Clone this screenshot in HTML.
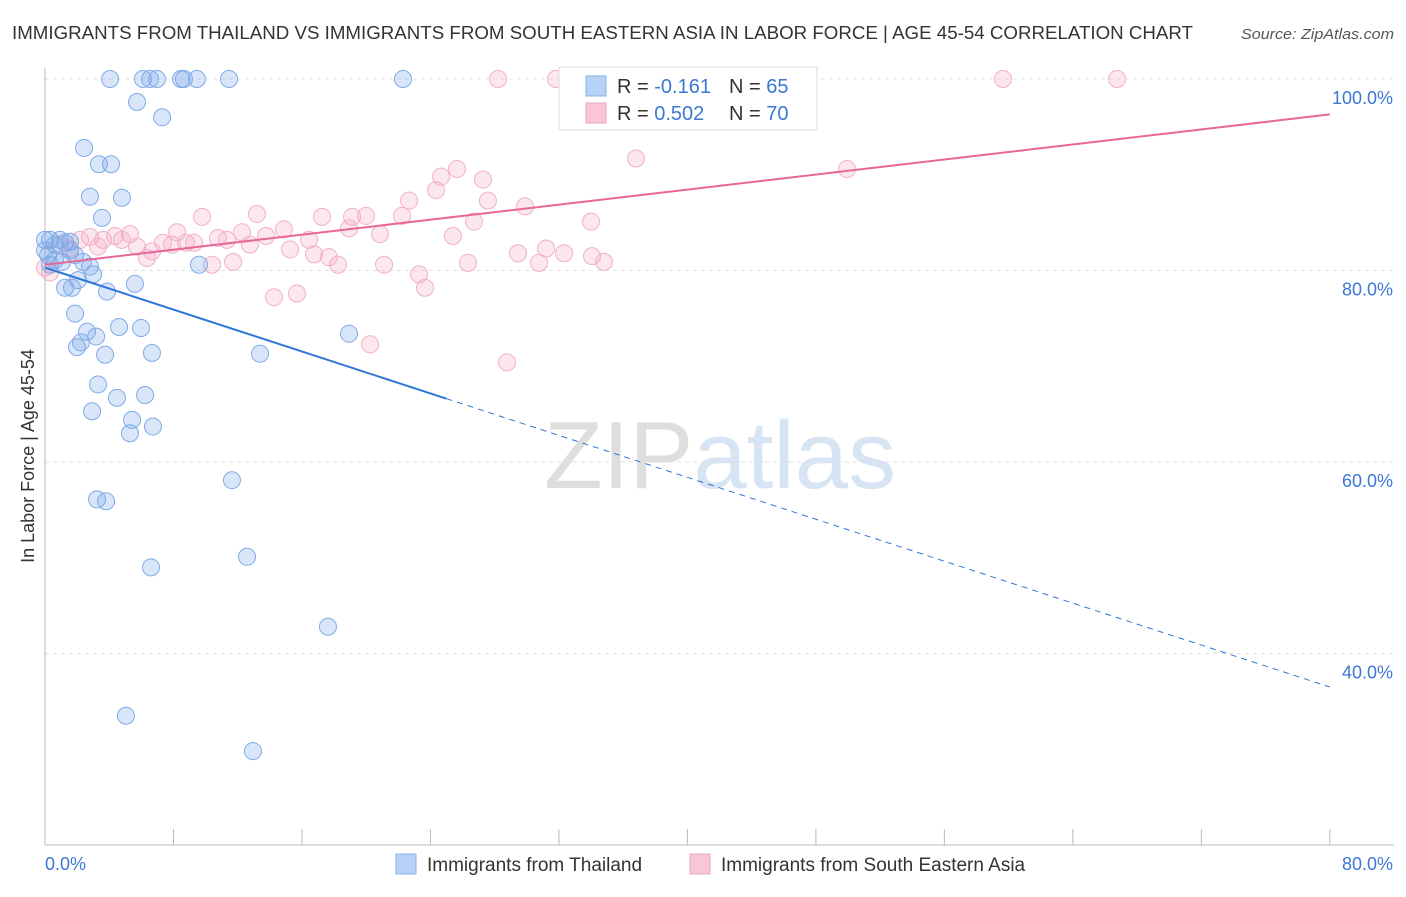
<!DOCTYPE html>
<html><head><meta charset="utf-8"><style>
body{margin:0;background:#fff;font-family:"Liberation Sans",sans-serif;}
svg text{font-family:"Liberation Sans",sans-serif;}
</style></head><body>
<svg id="chart" width="1406" height="892" xmlns="http://www.w3.org/2000/svg">
<text x="12" y="39" font-size="18" fill="#333" textLength="1181" lengthAdjust="spacingAndGlyphs">IMMIGRANTS FROM THAILAND VS IMMIGRANTS FROM SOUTH EASTERN ASIA IN LABOR FORCE | AGE 45-54 CORRELATION CHART</text>
<text x="1241" y="39" font-size="15" fill="#555" font-style="italic" textLength="153" lengthAdjust="spacingAndGlyphs">Source: ZipAtlas.com</text>
<text x="720" y="488" font-size="96" text-anchor="middle" fill="#e4e4e4" font-family="Liberation Serif"><tspan fill="#dedede">ZIP</tspan><tspan fill="#d6e4f4" font-family="Liberation Sans">atlas</tspan></text>
<text transform="translate(34,456) rotate(-90)" font-size="18" fill="#333" text-anchor="middle">In Labor Force | Age 45-54</text>
<g id="grid"></g><g id="axes"></g><g id="pts"></g><g id="trend"></g>
<g>
<rect x="559" y="67" width="258" height="63" fill="#fff" stroke="#ddd"/>
<rect x="586" y="76" width="20" height="20" fill="#b8d2f5" stroke="#8ab0e8"/>
<rect x="586" y="103" width="20" height="20" fill="#f8c6d6" stroke="#eca6bd"/>
<text x="617" y="93" font-size="20" fill="#333">R = <tspan fill="#3b78d4">-0.161</tspan></text>
<text x="729" y="93" font-size="20" fill="#333">N = <tspan fill="#3b78d4">65</tspan></text>
<text x="617" y="120" font-size="20" fill="#333">R = <tspan fill="#3b78d4">0.502</tspan></text>
<text x="729" y="120" font-size="20" fill="#333">N = <tspan fill="#3b78d4">70</tspan></text>
</g>
<g>
<rect x="396" y="854" width="20" height="20" fill="#b8d2f5" stroke="#8ab0e8"/>
<text x="427" y="871" font-size="19" fill="#333">Immigrants from Thailand</text>
<rect x="690" y="854" width="20" height="20" fill="#f8c6d6" stroke="#eca6bd"/>
<text x="721" y="871" font-size="19" fill="#333">Immigrants from South Eastern Asia</text>
</g>
</svg>
<script>
const blueX=[4.05,6.10,6.54,6.97,8.47,8.65,9.46,11.46,22.29,5.73,7.29,2.43,3.36,4.11,2.80,4.79,3.55,0,0.31,0.62,0.93,1.25,1.56,0.19,0.62,1.06,1.56,1.87,2.37,2.80,2.99,2.05,1.25,1.68,3.86,5.60,9.59,1.87,2.62,3.18,2.24,1.99,4.61,5.98,3.74,6.66,13.39,18.93,3.30,4.48,6.23,2.93,5.42,5.29,6.72,11.64,3.24,3.80,12.58,6.60,17.62,5.04,12.95,0,0.31];
const blueY=[100,100,100,100,100,100,100,100,100,97.6,96.0,92.8,91.1,91.1,87.7,87.6,85.5,83.2,83.2,82.7,83.2,82.9,83.0,81.6,81.1,80.9,82.1,81.6,80.9,80.4,79.6,79.0,78.2,78.2,77.8,78.6,80.6,75.5,73.6,73.1,72.5,72.0,74.1,74.0,71.2,71.4,71.3,73.4,68.1,66.7,67.0,65.3,64.4,63.0,63.7,58.1,56.1,55.9,50.1,49.0,42.8,33.5,29.8,82.1,80.6];
const pinkX=[28.21,31.82,59.65,66.75,36.80,49.94,25.65,24.66,27.27,24.35,27.58,22.67,29.89,9.78,13.20,17.25,19.12,19.99,22.23,34.00,26.71,18.93,14.88,8.22,12.27,20.86,25.40,5.29,4.36,2.80,2.18,3.61,4.79,7.35,8.78,9.28,10.77,11.33,13.76,16.44,12.76,5.73,6.66,7.91,3.30,1.56,0.93,15.26,16.75,17.68,18.24,11.71,10.40,6.35,29.45,31.20,32.32,30.76,34.06,34.81,26.34,21.11,23.29,23.66,14.26,15.69,20.24,28.77,0.31,0];
const pinkY=[100,100,100,100,91.7,90.6,90.6,89.8,89.5,88.4,87.3,87.3,86.7,85.6,85.9,85.6,85.6,85.7,85.7,85.1,85.1,84.4,84.3,84.0,84.0,83.8,83.6,83.8,83.6,83.5,83.2,83.2,83.2,82.9,82.9,82.9,83.4,83.2,83.6,83.2,82.7,82.5,82.0,82.7,82.5,82.3,82.7,82.2,81.7,81.4,80.6,80.9,80.6,81.3,81.8,82.3,81.8,80.8,81.5,80.9,80.8,80.6,79.6,78.2,77.2,77.6,72.3,70.4,79.8,80.3];
const yTicks=[100,80,60,40];
const xTickLabels=["0.0%","80.0%"];
const blueTrend=[80.3,36.5], pinkTrend=[80.6,96.3];
const NS="http://www.w3.org/2000/svg";
const X=v=>45+v*16.06, Y=v=>79+(100-v)*9.575;
function mk(p,t,a){const e=document.createElementNS(NS,t);for(const k in a)e.setAttribute(k,a[k]);p.appendChild(e);return e;}
const grid=document.getElementById('grid'),axes=document.getElementById('axes');
yTicks.forEach(t=>{
 const l=mk(grid,'line',{x1:45,x2:1394,y1:Y(t),y2:Y(t),stroke:'#e0e0e0','stroke-dasharray':'4,4'});
 
 
 const tx=mk(grid,'text',{x:1393,y:Y(t)+25,'font-size':18,fill:'#3b78d4','text-anchor':'end'});
 tx.textContent=t.toFixed(1)+'%';
 
 
});
const ax=mk(axes,'line',{x1:45,x2:45,y1:68,y2:845,stroke:'#bbb'});


const bx=mk(axes,'line',{x1:45,x2:1394,y1:845,y2:845,stroke:'#bbb'});


for(let i=0;i<=10;i++){const t=mk(axes,'line',{x1:X(i*8),x2:X(i*8),y1:829,y2:845,stroke:'#bbb'});
 
 }
[[0,'start',45],[80,'end',1393]].forEach((d,i)=>{const t=mk(axes,'text',{x:d[2],y:870,'font-size':18,fill:'#3b78d4','text-anchor':d[1]});t.textContent=xTickLabels[i];
 
 });
const pts=document.getElementById('pts');
function dots(xs,ys,fill,stroke,name){xs.forEach((x,i)=>{const c=mk(pts,'circle',{cx:X(x),cy:Y(ys[i]),r:8.5,fill:fill,stroke:stroke,'stroke-width':1});
 
 });}
dots(pinkX,pinkY,'rgba(246,170,198,0.28)','#f2b0c8','point-south-eastern-asia');
dots(blueX,blueY,'rgba(120,165,235,0.28)','#80abe8','point-thailand');
const tr=document.getElementById('trend');
const bAt=v=>blueTrend[0]+(blueTrend[1]-blueTrend[0])*v/80;
let l1=mk(tr,'line',{x1:X(0),y1:Y(bAt(0)),x2:X(25),y2:Y(bAt(25)),stroke:'#2f76d8','stroke-width':2});


let l2=mk(tr,'line',{x1:X(25),y1:Y(bAt(25)),x2:X(80),y2:Y(bAt(80)),stroke:'#2f76d8','stroke-width':1,'stroke-dasharray':'6,5'});


let l3=mk(tr,'line',{x1:X(0),y1:Y(pinkTrend[0]),x2:X(80),y2:Y(pinkTrend[1]),stroke:'#e8679a','stroke-width':2});


</script>
</body></html>
